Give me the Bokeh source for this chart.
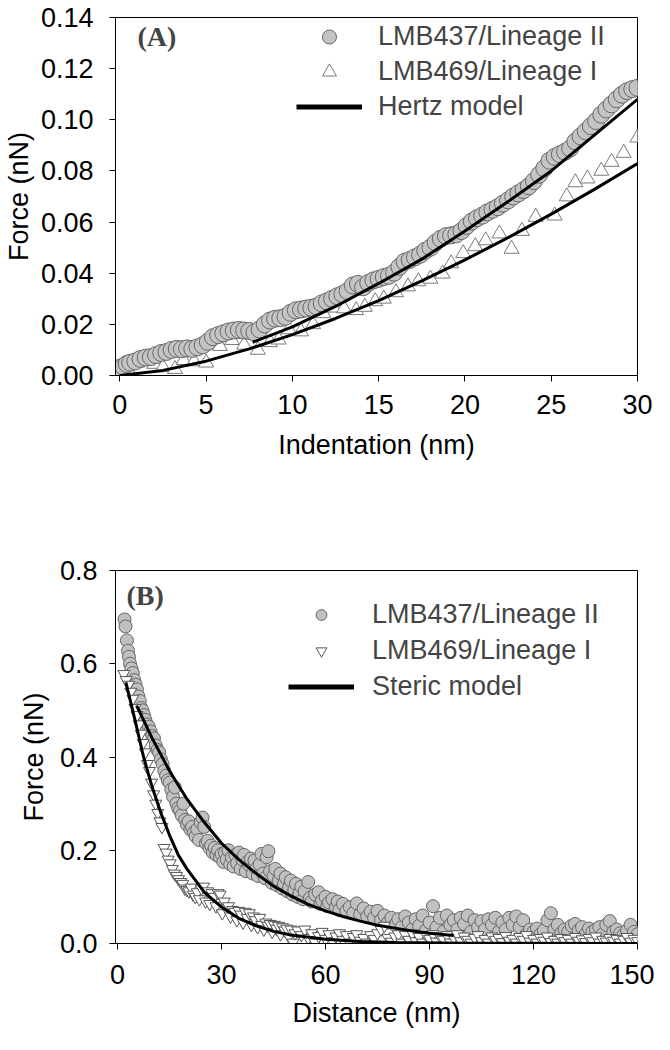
from bokeh.plotting import figure
from bokeh.layouts import column
from bokeh.models import Legend, LegendItem, Label, FixedTicker, Range1d
from bokeh.embed import file_html
from bokeh.resources import INLINE

FONT = "Liberation Sans"
FS = "27px"

# ---------------- Panel A data ----------------
a_circ_x = [0.0, 0.2, 0.4, 0.6, 0.9, 1.2, 1.5, 1.8, 2.1, 2.4, 2.7, 3.0, 3.3, 3.6, 3.9, 4.2, 4.5, 4.8,
            5.1, 5.4, 5.7, 6.0, 6.3, 6.6, 6.9, 7.2, 7.5, 7.8, 8.1, 8.4, 8.7, 9.0, 9.3, 9.6, 9.9,
            10.2, 10.5, 10.8, 11.1, 11.4, 11.7, 12.0, 12.3, 12.6, 12.9, 13.2, 13.5, 13.8, 14.1,
            14.4, 14.7, 15.0, 15.3, 15.6, 15.9, 16.2, 16.5, 16.8, 17.1, 17.4, 17.7, 18.0, 18.3,
            18.6, 18.9, 19.2, 19.5, 19.8, 20.1, 20.4, 20.7, 21.0, 21.3, 21.6, 21.9, 22.2, 22.5,
            22.8, 23.1, 23.4, 23.7, 24.0, 24.3, 24.6, 24.9, 25.2, 25.5, 25.8, 26.1, 26.4, 26.7,
            27.0, 27.3, 27.6, 27.9, 28.2, 28.5, 28.8, 29.1, 29.4, 29.7, 30.0]
a_circ_y = [0.0030, 0.0035, 0.0045, 0.0050, 0.0055, 0.0065, 0.0070, 0.0072, 0.0080, 0.0088, 0.0092,
            0.0100, 0.0104, 0.0103, 0.0106, 0.0104, 0.0110, 0.0118, 0.0132, 0.0150, 0.0158, 0.0165,
            0.0172, 0.0176, 0.0178, 0.0176, 0.0174, 0.0168, 0.0180, 0.0200, 0.0215, 0.0222, 0.0224,
            0.0230, 0.0245, 0.0255, 0.0258, 0.0262, 0.0265, 0.0270, 0.0282, 0.0290, 0.0300, 0.0310,
            0.0318, 0.0330, 0.0352, 0.0358, 0.0345, 0.0362, 0.0372, 0.0378, 0.0385, 0.0390, 0.0402,
            0.0425, 0.0445, 0.0452, 0.0462, 0.0472, 0.0488, 0.0500, 0.0520, 0.0535, 0.0545, 0.0548,
            0.0552, 0.0565, 0.0585, 0.0602, 0.0615, 0.0625, 0.0638, 0.0648, 0.0658, 0.0672, 0.0685,
            0.0700, 0.0712, 0.0725, 0.0740, 0.0760, 0.0785, 0.0810, 0.0840, 0.0855, 0.0865, 0.0875,
            0.0888, 0.0915, 0.0935, 0.0955, 0.0975, 0.0995, 0.1020, 0.1040, 0.1060, 0.1080, 0.1098,
            0.1112, 0.1120, 0.1125]

a_tri_x = [0.3, 0.6, 1.0, 1.5, 2.0, 2.5, 3.2, 3.7, 4.3, 5.0, 5.8, 6.5, 7.2, 8.0, 8.7, 9.2, 9.8, 10.5,
           11.2, 11.8, 12.4, 13.0, 13.7, 14.2, 14.8, 15.3, 16.0, 16.7, 17.3, 18.0, 18.7, 19.2, 19.9,
           20.6, 21.2, 22.0, 22.7, 23.3, 24.1, 25.2, 25.9, 26.4, 27.1, 27.9, 28.5, 29.2, 30.0]
a_tri_y = [0.000, 0.001, 0.0050, 0.0058, 0.0045, 0.0032, 0.0025, 0.0060, 0.0055, 0.0050, 0.0115,
           0.0138, 0.0120, 0.0100, 0.0130, 0.0140, 0.0180, 0.0172, 0.0200, 0.0243, 0.0265, 0.0262,
           0.0255, 0.0268, 0.0290, 0.0300, 0.0325, 0.0348, 0.0368, 0.0378, 0.0398, 0.0438, 0.0478,
           0.0505, 0.0528, 0.0555, 0.0495, 0.0565, 0.0620, 0.0625, 0.0700, 0.0755, 0.0770, 0.0800,
           0.0835, 0.0870, 0.0930]

a_fit1_x = [7.7, 10.0, 12.5, 15.0, 17.5, 20.0, 22.5, 25.0, 27.5, 30.0]
a_fit1_y = [0.0130, 0.0190, 0.0270, 0.0360, 0.0455, 0.0565, 0.0680, 0.0800, 0.0940, 0.1080]
a_fit2_x = [0.0, 2.5, 5.0, 7.5, 10.0, 12.5, 15.0, 17.5, 20.0, 22.5, 25.0, 27.5, 30.0]
a_fit2_y = [0.0, 0.0020, 0.0056, 0.0104, 0.0160, 0.0223, 0.0293, 0.0370, 0.0452, 0.0539, 0.0631,
            0.0728, 0.0829]

a_xticks = [0, 5, 10, 15, 20, 25, 30]
a_xtick_labels = ["0", "5", "10", "15", "20", "25", "30"]
a_yticks = [0.0, 0.02, 0.04, 0.06, 0.08, 0.10, 0.12, 0.14]
a_ytick_labels = ["0.00", "0.02", "0.04", "0.06", "0.08", "0.10", "0.12", "0.14"]

# ---------------- Panel B data ----------------
b_circ_x = [2.0, 2.3, 2.7, 3.0, 3.3, 3.6, 4.0, 4.4, 4.8, 5.2, 5.6, 6.0, 6.4, 6.8, 7.2, 7.6, 8.0, 8.5,
            9.0, 9.5, 10.0, 10.5, 11.0, 11.5, 12.0, 12.5, 13.0, 13.5, 14.0, 14.5, 15.0, 15.5, 16.0,
            16.5, 17.0, 17.5, 18.0, 18.5, 19.0, 19.5, 20.0, 20.5, 21.0, 21.5, 22.0, 22.5, 23.0, 23.5,
            24.0, 24.5, 25.0, 25.5, 26.0, 26.5, 27.0, 27.5, 28.0, 28.5, 29.0, 29.5, 30.0, 30.5, 31.0,
            31.5, 32.0, 32.5, 33.0, 33.5, 34.0, 34.5, 35.0, 35.5, 36.0, 36.5, 37.0, 37.5, 38.0, 38.5,
            39.0, 39.5, 40.0, 40.5, 41.0, 41.5, 42.0, 42.5, 43.0, 43.5, 44.0, 44.5, 45.0, 45.5, 46.0,
            46.5, 47.0, 47.5, 48.0, 48.5, 49.0, 49.5, 50.0, 50.5, 51.0, 51.5, 52.0, 52.5, 53.0, 53.5,
            54.0, 55.0, 55.5, 56.0, 57.0, 58.0, 58.5, 59.0, 60.0, 60.5, 61.0, 62.0, 63.0, 63.5, 64.0,
            65.0, 66.0, 67.0, 68.0, 69.0, 70.0, 71.0, 72.0, 73.0, 74.0, 75.0, 76.0, 77.0, 78.0, 79.0,
            80.0, 81.0, 82.0, 83.0, 84.0, 85.0, 86.0, 87.0, 88.0, 89.0, 90.0, 91.0, 92.0, 93.0, 94.0,
            95.0, 96.0, 97.0, 98.0, 99.0, 100.0, 101.0, 102.0, 103.0, 104.0, 105.0, 106.0, 107.0,
            108.0, 109.0, 110.0, 111.0, 112.0, 113.0, 114.0, 115.0, 116.0, 117.0, 118.0, 119.0,
            120.0, 121.0, 122.0, 123.0, 124.0, 125.0, 126.0, 127.0, 128.0, 129.0, 130.0, 131.0,
            132.0, 133.0, 134.0, 135.0, 136.0, 137.0, 138.0, 139.0, 140.0, 141.0, 142.0, 143.0,
            144.0, 145.0, 146.0, 147.0, 148.0, 149.0, 150.0]
b_circ_y = [0.695, 0.680, 0.650, 0.628, 0.615, 0.600, 0.590, 0.580, 0.565, 0.555, 0.545, 0.530, 0.520,
            0.505, 0.500, 0.490, 0.480, 0.470, 0.465, 0.455, 0.445, 0.440, 0.425, 0.415, 0.410, 0.395,
            0.385, 0.370, 0.360, 0.350, 0.345, 0.330, 0.315, 0.335, 0.300, 0.290, 0.285, 0.275, 0.300,
            0.265, 0.255, 0.262, 0.245, 0.250, 0.238, 0.230, 0.245, 0.222, 0.260, 0.270, 0.250, 0.215,
            0.220, 0.205, 0.210, 0.195, 0.205, 0.190, 0.200, 0.185, 0.192, 0.175, 0.195, 0.180, 0.200,
            0.170, 0.185, 0.165, 0.190, 0.172, 0.195, 0.160, 0.180, 0.190, 0.155, 0.175, 0.168, 0.182,
            0.150, 0.178, 0.160, 0.145, 0.170, 0.192, 0.150, 0.140, 0.185, 0.198, 0.155, 0.130, 0.145,
            0.160, 0.125, 0.135, 0.150, 0.118, 0.128, 0.142, 0.112, 0.120, 0.135, 0.105, 0.115, 0.128,
            0.100, 0.108, 0.122, 0.095, 0.112, 0.132, 0.098, 0.090, 0.105, 0.110, 0.085, 0.092, 0.100,
            0.080, 0.088, 0.095, 0.078, 0.090, 0.072, 0.085, 0.070, 0.078, 0.065, 0.086, 0.062, 0.075,
            0.058, 0.068, 0.055, 0.070, 0.050, 0.060, 0.045, 0.055, 0.040, 0.052, 0.035, 0.058, 0.045,
            0.030, 0.052, 0.038, 0.060, 0.028, 0.045, 0.080, 0.035, 0.055, 0.025, 0.060, 0.040, 0.050,
            0.030, 0.055, 0.042, 0.060, 0.025, 0.050, 0.035, 0.048, 0.030, 0.052, 0.040, 0.055, 0.025,
            0.045, 0.030, 0.055, 0.040, 0.058, 0.035, 0.050, 0.020, 0.030, 0.025, 0.032, 0.020, 0.028,
            0.050, 0.065, 0.030, 0.040, 0.022, 0.030, 0.025, 0.038, 0.042, 0.028, 0.035, 0.020, 0.032,
            0.025, 0.030, 0.035, 0.020, 0.040, 0.048, 0.025, 0.030, 0.022, 0.018, 0.028, 0.040, 0.025,
            0.020]

b_tri_x = [1.8, 2.5, 3.2, 3.8, 4.4, 5.0, 5.6, 6.2, 6.8, 7.4, 8.0, 8.6, 9.2, 9.8, 10.4, 11.0, 11.6,
           12.2, 12.8, 13.4, 14.0, 14.6, 15.2, 15.8, 16.4, 17.0, 17.6, 18.2, 18.8, 19.4, 20.0, 20.6,
           21.2, 21.8, 22.4, 23.0, 23.6, 24.2, 24.8, 25.4, 26.0, 26.6, 27.2, 27.8, 28.4, 29.0, 29.6,
           30.2, 30.8, 31.4, 32.0, 32.6, 33.2, 33.8, 34.4, 35.0, 35.6, 36.2, 36.8, 37.4, 38.0, 38.6,
           39.2, 39.8, 40.4, 41.0, 41.6, 42.2, 42.8, 43.4, 44.0, 44.6, 45.2, 45.8, 46.4, 47.0, 47.6,
           48.2, 48.8, 49.4, 50.0, 50.6, 51.2, 52.0, 53.0, 54.0, 55.0, 56.0, 57.0, 58.0, 59.0, 60.0,
           61.0, 62.0, 63.0, 64.0, 65.0, 66.0, 67.0, 68.0, 69.0, 70.0, 71.0, 72.0, 73.0, 74.0, 75.0,
           76.0, 77.0, 78.0, 79.0, 80.0, 81.0, 82.0, 83.0, 84.0, 85.0, 86.0, 87.0, 88.0, 89.0, 90.0,
           91.0, 92.0, 93.0, 94.0, 95.0, 96.0, 97.0, 98.0, 99.0, 100.0, 101.0, 102.0, 103.0, 104.0,
           105.0, 106.0, 107.0, 108.0, 109.0, 110.0, 111.0, 112.0, 113.0, 114.0, 115.0, 116.0, 117.0,
           118.0, 119.0, 120.0, 121.0, 122.0, 123.0, 124.0, 125.0, 126.0, 127.0, 128.0, 129.0, 130.0,
           131.0, 132.0, 133.0, 134.0, 135.0, 136.0, 137.0, 138.0, 139.0, 140.0, 141.0, 142.0, 143.0,
           144.0, 145.0, 146.0, 147.0, 148.0, 149.0, 150.0]
b_tri_y = [0.578, 0.565, 0.555, 0.540, 0.525, 0.505, 0.490, 0.470, 0.450, 0.430, 0.410, 0.385, 0.370,
           0.345, 0.320, 0.300, 0.280, 0.262, 0.250, 0.205, 0.195, 0.180, 0.172, 0.160, 0.150, 0.145,
           0.138, 0.132, 0.128, 0.118, 0.115, 0.112, 0.120, 0.105, 0.100, 0.110, 0.095, 0.118, 0.122,
           0.090, 0.112, 0.085, 0.108, 0.100, 0.080, 0.108, 0.105, 0.065, 0.090, 0.075, 0.080, 0.058,
           0.072, 0.068, 0.050, 0.070, 0.062, 0.045, 0.068, 0.055, 0.065, 0.040, 0.058, 0.050, 0.035,
           0.055, 0.040, 0.030, 0.045, 0.038, 0.042, 0.025, 0.040, 0.032, 0.038, 0.020, 0.035, 0.028,
           0.032, 0.015, 0.030, 0.002, 0.022, 0.028, 0.018, 0.030, 0.012, 0.022, 0.002, 0.016, 0.025,
           0.010, 0.020, 0.005, 0.015, 0.022, 0.008, 0.018, 0.002, 0.014, 0.020, 0.006, 0.012, 0.002,
           0.018, 0.010, 0.022, 0.030, 0.038, 0.012, 0.004, 0.015, 0.020, 0.002, 0.018, 0.008, 0.022,
           0.005, 0.014, 0.002, 0.018, 0.010, 0.020, 0.004, 0.015, 0.008, 0.018, 0.002, 0.012, 0.020,
           0.005, 0.015, 0.008, 0.002, 0.012, 0.018, 0.005, 0.010, 0.002, 0.015, 0.008, 0.012, 0.003,
           0.016, 0.006, 0.010, 0.002, 0.014, 0.008, 0.018, 0.004, 0.010, 0.002, 0.012, 0.006, 0.015,
           0.003, 0.008, 0.002, 0.012, 0.005, 0.010, 0.002, 0.014, 0.006, 0.009, 0.003, 0.012, 0.005,
           0.015, 0.002, 0.008, 0.004, 0.012, 0.006, 0.010, 0.002, 0.008, 0.014, 0.004, 0.010, 0.005]

b_fit1_x = [5.5, 10, 15, 20, 25, 30, 35, 40, 45, 50, 55, 60, 65, 70, 75, 80, 85, 90, 97]
b_fit1_y = [0.510, 0.440, 0.370, 0.310, 0.260, 0.215, 0.180, 0.150, 0.123, 0.102, 0.084, 0.070,
            0.058, 0.048, 0.039, 0.033, 0.027, 0.022, 0.017]
b_fit2_x = [2.4, 5, 7.5, 10, 12.5, 15, 17.5, 20, 25, 30, 35, 40, 45, 50, 60, 70, 80, 100, 150]
b_fit2_y = [0.560, 0.480, 0.400, 0.335, 0.280, 0.232, 0.190, 0.160, 0.110, 0.078, 0.054, 0.038,
            0.026, 0.018, 0.009, 0.0045, 0.002, 0.0005, 0.0]

b_xticks = [0, 30, 60, 90, 120, 150]
b_xtick_labels = ["0", "30", "60", "90", "120", "150"]
b_yticks = [0.0, 0.2, 0.4, 0.6, 0.8]
b_ytick_labels = ["0.0", "0.2", "0.4", "0.6", "0.8"]

series_names = ["LMB437/Lineage II", "LMB469/Lineage I"]
model_names = ["Hertz model", "Steric model"]
panel_tags = ["(A)", "(B)"]


def style_axes(p, xticks, xlabels, yticks, ylabels, xtitle, ytitle,
               ylab_standoff, ytitle_standoff, xlab_standoff, xtitle_standoff):
    p.xaxis.ticker = FixedTicker(ticks=xticks)
    p.yaxis.ticker = FixedTicker(ticks=yticks)
    p.xaxis.major_label_overrides = {t: l for t, l in zip(xticks, xlabels)}
    p.yaxis.major_label_overrides = {t: l for t, l in zip(yticks, ylabels)}
    p.xaxis.axis_label = xtitle
    p.yaxis.axis_label = ytitle
    for ax in (p.xaxis[0], p.yaxis[0]):
        ax.axis_line_color = "black"
        ax.axis_line_width = 1
        ax.major_tick_line_color = "black"
        ax.major_tick_in = 0
        ax.major_tick_out = 6
        ax.minor_tick_line_color = None
        ax.major_label_text_font = FONT
        ax.major_label_text_font_size = FS
        ax.major_label_text_color = "black"
        ax.axis_label_text_font = FONT
        ax.axis_label_text_font_size = FS
        ax.axis_label_text_font_style = "normal"
        ax.axis_label_text_color = "black"
    p.yaxis.major_label_standoff = ylab_standoff
    p.yaxis.axis_label_standoff = ytitle_standoff
    p.xaxis.major_label_standoff = xlab_standoff
    p.xaxis.axis_label_standoff = xtitle_standoff
    p.xgrid.grid_line_color = None
    p.ygrid.grid_line_color = None
    p.outline_line_color = "black"
    p.outline_line_width = 1
    p.outline_line_alpha = 1


# ---------------- Panel A ----------------
A_FH = 358
pa = figure(width=654, height=485, output_backend="svg", toolbar_location=None,
            x_range=Range1d(-0.25, 30), y_range=Range1d(0, 0.14),
            min_border_left=111, min_border_right=14, min_border_top=17,
            min_border_bottom=485 - 17 - A_FH)
style_axes(pa, a_xticks, a_xtick_labels, a_yticks, a_ytick_labels,
           "Indentation (nm)", "Force (nN)", 16, 4, 13, 13)

ra_tri = pa.scatter(a_tri_x, a_tri_y, marker="triangle", size=15, fill_color="white",
                    line_color="#7a7a7a", line_width=1)
ra_circ = pa.scatter(a_circ_x, a_circ_y, marker="circle", size=17, fill_color="#c4c4c4",
                     line_color="#666666", line_width=1)
pa.line(a_fit2_x, a_fit2_y, line_color="black", line_width=3)
pa.line(a_fit1_x, a_fit1_y, line_color="black", line_width=3)
# legend-only line sample (kept outside the visible ranges)
ra_leg_line = pa.line([-100, -99], [-1, -1], line_color="black", line_width=5)

leg_a = Legend(items=[LegendItem(label=series_names[0], renderers=[ra_circ]),
                      LegendItem(label=series_names[1], renderers=[ra_tri]),
                      LegendItem(label=model_names[0], renderers=[ra_leg_line])],
               location=(181, A_FH - 1.5 - 105), glyph_width=66, glyph_height=35, spacing=0,
               padding=0, label_standoff=16, label_text_font=FONT, label_text_font_size=FS,
               border_line_alpha=0, background_fill_alpha=0, margin=0)
pa.add_layout(leg_a)
pa.add_layout(Label(x=22, y=A_FH - 19, x_units="screen", y_units="screen", text=panel_tags[0],
                    text_font="Liberation Serif", text_font_style="bold",
                    text_font_size="28px", text_baseline="middle"))

# ---------------- Panel B ----------------
B_FH = 373
pb = figure(width=654, height=555, output_backend="svg", toolbar_location=None,
            x_range=Range1d(-0.6, 150), y_range=Range1d(0, 0.8),
            min_border_left=97, min_border_right=17, min_border_top=85,
            min_border_bottom=555 - 85 - B_FH)
style_axes(pb, b_xticks, b_xtick_labels, b_yticks, b_ytick_labels,
           "Distance (nm)", "Force (nN)", 12, 8, 15, 11)

rb_circ = pb.scatter(b_circ_x, b_circ_y, marker="circle", size=13, fill_color="#c0c0c0",
                     line_color="#666666", line_width=1)
rb_tri = pb.scatter(b_tri_x, b_tri_y, marker="inverted_triangle", size=12, fill_color="white",
                    line_color="#555555", line_width=1)
pb.line(b_fit1_x, b_fit1_y, line_color="black", line_width=3)
pb.line(b_fit2_x, b_fit2_y, line_color="black", line_width=3)
rb_leg_line = pb.line([-100, -99], [-1, -1], line_color="black", line_width=5)

leg_b = Legend(items=[LegendItem(label=series_names[0], renderers=[rb_circ]),
                      LegendItem(label=series_names[1], renderers=[rb_tri]),
                      LegendItem(label=model_names[1], renderers=[rb_leg_line])],
               location=(173, B_FH - 28.5 - 103), glyph_width=66, glyph_height=27, spacing=5,
               padding=0, label_standoff=18, label_text_font=FONT, label_text_font_size=FS,
               border_line_alpha=0, background_fill_alpha=0, margin=0)
pb.add_layout(leg_b)
pb.add_layout(Label(x=11, y=B_FH - 25, x_units="screen", y_units="screen", text=panel_tags[1],
                    text_font="Liberation Serif", text_font_style="bold",
                    text_font_size="28px", text_baseline="middle"))

layout = column(pa, pb, spacing=0)
open("out.html", "w").write(file_html(layout, INLINE))
